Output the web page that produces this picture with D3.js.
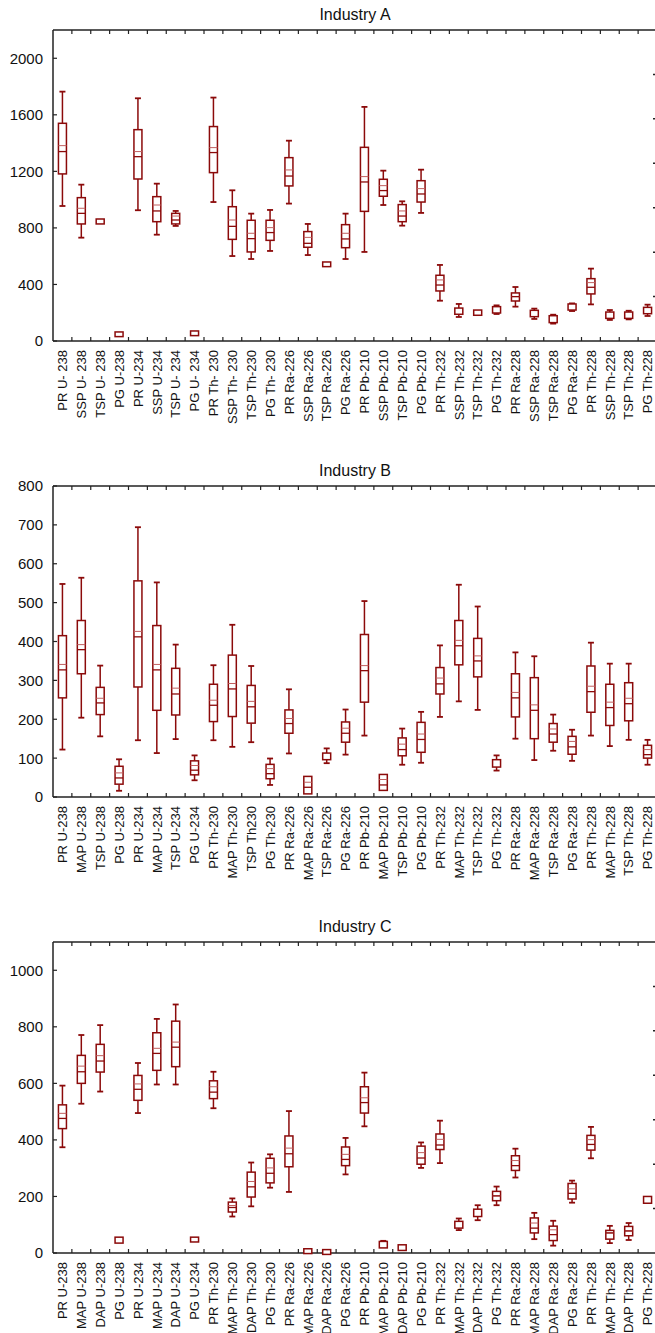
<!DOCTYPE html>
<html><head><meta charset="utf-8">
<script src="https://cdn.jsdelivr.net/npm/d3@7"></script>
<style>body{margin:0;background:#fff}svg{display:block}</style>
</head><body>
<script>
// ---------- DATA ----------
const catsA = ["PR U- 238","SSP U- 238","TSP U- 238","PG U-238","PR U-234","SSP U-234","TSP U- 234","PG U- 234","PR Th- 230","SSP Th- 230","TSP Th-230","PG Th- 230","PR Ra-226","SSP Ra-226","TSP Ra-226","PG Ra-226","PR Pb-210","SSP Pb-210","TSP Pb-210","PG Pb-210","PR Th-232","SSP Th-232","TSP Th-232","PG Th-232","PR Ra-228","SSP Ra-228","TSP Ra-228","PG Ra-228","PR Th-228","SSP Th-228","TSP Th-228","PG Th-228"];
const loA   = [955,731,828,31,925,752,814,38,983,601,580,637,972,608,526,580,630,962,816,906,285,170,182,191,243,156,123,212,259,149,153,177];
const q1A   = [1182,828,828,31,1146,844,828,38,1191,719,630,712,1097,663,526,660,917,1024,844,983,354,189,182,198,283,172,130,219,333,160,160,193];
const meanA = [1382,939,847,48,1340,962,884,55,1368,856,762,802,1210,733,543,762,1163,1099,920,1078,432,210,200,220,314,196,153,240,413,182,182,215];
const medA  = [1340,903,847,48,1304,920,856,55,1333,811,724,767,1167,691,543,722,1125,1064,884,1040,396,210,200,220,314,196,153,240,380,182,182,215];
const q3A   = [1540,1014,863,64,1495,1021,903,71,1517,950,854,854,1297,774,559,823,1370,1144,965,1134,465,233,219,243,340,217,179,262,441,205,205,238];
const hiA   = [1764,1106,863,64,1717,1113,920,71,1722,1066,901,927,1417,828,559,901,1656,1205,988,1212,538,262,219,252,382,229,186,266,512,219,214,257];
const ticksA = [0,400,800,1200,1600,2000];

const catsB = ["PR U-238","MAP U-238","TSP U-238","PG U-238","PR U-234","MAP U-234","TSP U-234","PG U-234","PR Th-230","MAP Th-230","TSP Th230","PG Th-230","PR Ra-226","MAP Ra-226","TSP Ra-226","PG Ra-226","PR Pb-210","MAP Pb-210","TSP Pb-210","PG Pb-210","PR Th-232","MAP Th-232","TSP Th-232","PG Th-232","PR Ra-228","MAP Ra-228","TSP Ra-228","PG Ra-228","PR Th-228","MAP Th-228","TSP Th-228","PG Th-228"];
const loB   = [122,204,156,16,146,113,149,43,146,129,141,31,112,8,87,109,158,17,83,88,206,246,224,68,150,95,119,93,158,131,147,83];
const q1B   = [255,317,212,33,283,223,211,57,194,207,190,47,164,8,96,141,244,17,106,115,265,340,309,77,206,150,141,110,218,184,196,100];
const meanB = [341,392,254,62,426,341,280,81,249,292,246,73,202,38,104,177,338,45,136,162,306,403,363,87,269,237,175,143,285,244,254,122];
const medB  = [327,379,242,49,412,327,265,69,236,278,232,60,189,25,104,164,325,31,122,148,291,389,350,87,255,223,162,129,271,230,240,109];
const q3B   = [415,454,282,79,556,441,331,93,290,365,287,84,224,53,113,193,418,58,152,192,333,454,408,96,317,307,189,156,337,290,294,133];
const hiB   = [548,564,338,97,694,552,392,107,339,443,337,99,277,53,125,225,504,58,176,219,390,546,490,107,372,362,212,173,397,343,343,147];
const ticksB = [0,100,200,300,400,500,600,700,800];

const catsC = ["PR U-238","MAP U-238","DAP U-238","PG U-238","PR U-234","MAP U-234","DAP U-234","PG U-234","PR Th-230","MAP Th-230","DAP Th-230","PG Th-230","PR Ra-226","MAP Ra-226","DAP Ra-226","PG Ra-226","PR Pb-210","MAP Pb-210","DAP Pb-210","PG Pb-210","PR Th-232","MAP Th-232","DAP Th-232","PG Th-232","PR Ra-228","MAP Ra-228","DAP Ra-228","PG Ra-228","PR Th-228","MAP Th-228","DAP Th-228","PG Th-228"];
const loC   = [374,528,571,35,495,596,596,39,512,129,165,231,216,-2,-5,278,448,18,9,301,318,81,116,169,267,49,26,178,335,35,46,176];
const q1C   = [440,600,640,35,540,646,659,39,546,145,198,248,305,-2,-5,309,495,18,9,314,366,88,129,185,292,71,44,191,364,49,61,176];
const meanC = [494,661,698,47,598,724,746,48,588,168,253,301,371,7,3,349,549,30,19,355,402,101,145,202,327,106,82,227,401,71,78,188];
const medC  = [476,641,679,47,579,706,728,48,569,161,234,282,351,7,3,331,532,30,19,336,382,101,145,202,309,88,65,211,384,71,78,188];
const q3C   = [524,699,738,56,628,779,820,56,609,180,286,335,414,15,12,375,588,41,29,378,421,112,155,218,344,124,95,246,416,80,94,200];
const hiC   = [592,771,806,56,672,828,879,56,641,193,320,349,502,15,12,407,638,43,29,391,468,122,169,235,369,142,114,256,446,96,106,200];
const ticksC = [0,200,400,600,800,1000];

const rightTicks = [0,1,2,3,4,5,6];

// ---------- DRAW ----------
const W = 655, H = 1333;
const svg = d3.select("body").append("svg").attr("width", W).attr("height", H);
const FONT = "'Liberation Sans', Arial, sans-serif";
const RED = "#8b0a0a", RED2 = "#c06060", AX = "#222";
const L = 53, R = 657;

function panel(title, cats, lo, q1, mean, med, q3, hi, ymax, ticks, top, bottom, showRight) {
  const g = svg.append("g");
  const x = d3.scaleBand().domain(cats).range([L, R]);
  const y = d3.scaleLinear().domain([0, ymax]).range([bottom, top]);
  const yr = d3.scaleLinear().domain([0, 7]).range([bottom, top]);
  const bw = 8, cw = 6;

  // title
  g.append("text").attr("x", (L + R) / 2).attr("y", top - 10).attr("text-anchor", "middle")
    .attr("font-family", FONT).attr("font-size", 16).attr("fill", "#111").text(title);

  // frame lines
  g.append("line").attr("x1", L).attr("x2", W + 5).attr("y1", top).attr("y2", top).attr("stroke", AX).attr("stroke-width", 1.5);
  g.append("line").attr("x1", L).attr("x2", W + 5).attr("y1", bottom).attr("y2", bottom).attr("stroke", AX).attr("stroke-width", 1.5);
  g.append("line").attr("x1", L).attr("x2", L).attr("y1", top).attr("y2", bottom).attr("stroke", AX).attr("stroke-width", 1.5);
  g.append("line").attr("x1", R).attr("x2", R).attr("y1", top).attr("y2", bottom).attr("stroke", AX).attr("stroke-width", 1.5);

  // category boundary ticks (bottom up, top down)
  const bounds = cats.map(c => x(c)).slice(1);
  g.selectAll(null).data(bounds).join("line")
    .attr("x1", d => d).attr("x2", d => d).attr("y1", bottom).attr("y2", bottom - 4)
    .attr("stroke", AX).attr("stroke-width", 1.2);
  g.selectAll(null).data(bounds).join("line")
    .attr("x1", d => d).attr("x2", d => d).attr("y1", top).attr("y2", top + 4)
    .attr("stroke", AX).attr("stroke-width", 1.2);

  // left y axis ticks + labels
  g.selectAll(null).data(ticks).join("line")
    .attr("x1", L).attr("x2", L + 4).attr("y1", d => y(d)).attr("y2", d => y(d))
    .attr("stroke", AX).attr("stroke-width", 1.2);
  g.selectAll(null).data(ticks).join("text")
    .attr("x", L - 10).attr("y", d => y(d)).attr("dy", "0.36em").attr("text-anchor", "end")
    .attr("font-family", FONT).attr("font-size", 15).attr("fill", "#111").text(d => d);

  // right axis ticks (secondary axis, labels off-canvas)
  if (showRight) {
    g.selectAll(null).data(rightTicks.slice(1)).join("line")
      .attr("x1", R).attr("x2", R - 4).attr("y1", d => yr(d)).attr("y2", d => yr(d))
      .attr("stroke", AX).attr("stroke-width", 1.5);
  }

  // x labels
  g.selectAll(null).data(cats).join("text")
    .attr("transform", d => `translate(${x(d) + x.bandwidth() / 2},${bottom + 9}) rotate(-90)`)
    .attr("dy", "0.36em").attr("text-anchor", "end")
    .attr("font-family", FONT).attr("font-size", 13).attr("fill", "#111").text(d => d);

  // boxes
  const idx = d3.range(cats.length);
  const bx = g.selectAll(null).data(idx).join("g")
    .attr("transform", i => `translate(${x(cats[i]) + x.bandwidth() / 2},0)`);
  // whiskers
  bx.filter(i => hi[i] > q3[i]).append("line")
    .attr("x1", 0).attr("x2", 0).attr("y1", i => y(q3[i])).attr("y2", i => y(hi[i]))
    .attr("stroke", RED).attr("stroke-width", 1.5);
  bx.filter(i => lo[i] < q1[i]).append("line")
    .attr("x1", 0).attr("x2", 0).attr("y1", i => y(q1[i])).attr("y2", i => y(lo[i]))
    .attr("stroke", RED).attr("stroke-width", 1.5);
  bx.filter(i => hi[i] > q3[i]).append("line")
    .attr("x1", -cw / 2).attr("x2", cw / 2).attr("y1", i => y(hi[i])).attr("y2", i => y(hi[i]))
    .attr("stroke", RED).attr("stroke-width", 1.8);
  bx.filter(i => lo[i] < q1[i]).append("line")
    .attr("x1", -cw / 2).attr("x2", cw / 2).attr("y1", i => y(lo[i])).attr("y2", i => y(lo[i]))
    .attr("stroke", RED).attr("stroke-width", 1.8);
  // box
  bx.append("rect")
    .attr("x", -bw / 2).attr("width", bw)
    .attr("y", i => Math.min(y(q3[i]), y(q1[i]) - 4.5))
    .attr("height", i => Math.max(y(q1[i]) - y(q3[i]), 4.5))
    .attr("fill", "#fff").attr("stroke", RED).attr("stroke-width", 1.5);
  // mean (light) and median (dark) lines
  bx.filter(i => q3[i] - q1[i] > 0 && (y(q1[i]) - y(q3[i])) > 8).append("line")
    .attr("x1", -bw / 2).attr("x2", bw / 2).attr("y1", i => y(mean[i])).attr("y2", i => y(mean[i]))
    .attr("stroke", RED2).attr("stroke-width", 1);
  bx.filter(i => (y(q1[i]) - y(q3[i])) > 8).append("line")
    .attr("x1", -bw / 2).attr("x2", bw / 2).attr("y1", i => y(med[i])).attr("y2", i => y(med[i]))
    .attr("stroke", RED).attr("stroke-width", 1.3);
}

panel("Industry A", catsA, loA, q1A, meanA, medA, q3A, hiA, 2200, ticksA, 30, 341, true);
panel("Industry B", catsB, loB, q1B, meanB, medB, q3B, hiB, 800, ticksB, 486, 797, false);
panel("Industry C", catsC, loC, q1C, meanC, medC, q3C, hiC, 1100, ticksC, 942, 1253, true);
</script>
</body></html>
